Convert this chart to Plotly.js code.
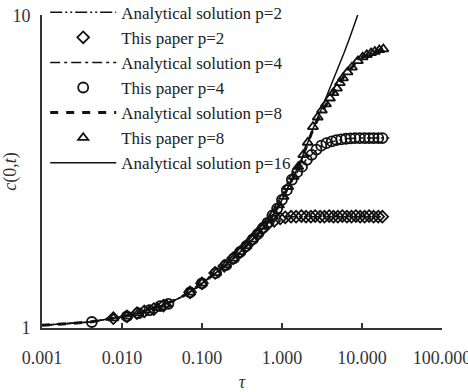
<!DOCTYPE html>
<html>
<head>
<meta charset="utf-8">
<script src="https://cdn.plot.ly/plotly-3.0.1.min.js"></script>
<style>html,body{margin:0;padding:0;background:#fff;}#chart{width:468px;height:392px;}</style>
</head>
<body>
<div id="chart"></div>
<script>
// ---- analytical solutions (lines) ----
const tauLine = [0.001, 0.002, 0.004, 0.007, 0.01, 0.015, 0.02, 0.03, 0.05, 0.07, 0.1, 0.15, 0.2, 0.3, 0.4, 0.5, 0.6, 0.7, 0.8, 0.9, 1.0, 1.2, 1.4, 1.7, 2, 2.5, 3, 4, 5, 6, 7, 8, 9, 10, 12, 15, 18, 22];
const lineP2  = [1.02, 1.03, 1.045, 1.07, 1.085, 1.11, 1.135, 1.175, 1.24, 1.30, 1.39, 1.50, 1.59, 1.75, 1.88, 2.00, 2.11, 2.19, 2.23, 2.25, 2.26, 2.27, 2.27, 2.27, 2.27, 2.27, 2.27, 2.27, 2.27, 2.27, 2.27, 2.27, 2.27, 2.27, 2.27, 2.27, 2.27, null];
const lineP4  = [1.02, 1.03, 1.045, 1.07, 1.085, 1.11, 1.135, 1.175, 1.24, 1.30, 1.39, 1.50, 1.59, 1.75, 1.88, 2.00, 2.11, 2.22, 2.33, 2.45, 2.57, 2.83, 3.02, 3.27, 3.45, 3.65, 3.80, 3.93, 3.99, 4.02, 4.04, 4.05, 4.05, 4.05, 4.05, 4.05, 4.05, 4.05];
const lineP8  = [1.02, 1.03, 1.045, 1.07, 1.085, 1.11, 1.135, 1.175, 1.24, 1.30, 1.39, 1.50, 1.59, 1.75, 1.88, 2.00, 2.11, 2.22, 2.33, 2.45, 2.57, 2.83, 3.05, 3.40, 3.80, 4.38, 4.82, 5.45, 5.95, 6.40, 6.70, 6.95, 7.15, 7.30, 7.50, 7.68, 7.80, 7.85];
const lineP16 = [1.02, 1.03, 1.045, 1.07, 1.085, 1.11, 1.135, 1.175, 1.24, 1.30, 1.39, 1.50, 1.59, 1.75, 1.88, 2.00, 2.11, 2.22, 2.33, 2.45, 2.57, 2.83, 3.05, 3.40, 3.80, 4.40, 4.90, 5.85, 6.70, 7.60, 8.45, 9.30, 10.2, 11.0, 12.5, null, null, null];

// ---- this paper (markers) ----
const tauP2 = [0.0078, 0.0115, 0.0154, 0.019, 0.025, 0.033, 0.071, 0.1, 0.146, 0.19, 0.245, 0.3, 0.36, 0.43, 0.5, 0.58, 0.66, 0.8, 0.95, 1.1, 1.3, 1.5, 1.75, 2.0, 2.3, 2.6, 3.0, 3.4, 3.9, 4.4, 5.0, 5.7, 6.5, 7.4, 8.4, 9.5, 10.8, 12.3, 14, 16, 18];
const cP2   = [1.075, 1.09, 1.115, 1.13, 1.15, 1.18, 1.30, 1.39, 1.50, 1.58, 1.67, 1.75, 1.83, 1.92, 2.00, 2.09, 2.15, 2.20, 2.24, 2.26, 2.27, 2.27, 2.28, 2.27, 2.27, 2.28, 2.27, 2.27, 2.28, 2.27, 2.27, 2.28, 2.27, 2.27, 2.28, 2.27, 2.27, 2.28, 2.27, 2.27, 2.27];

const tauP4 = [0.0042, 0.0115, 0.016, 0.022, 0.03, 0.038, 0.071, 0.1, 0.15, 0.2, 0.25, 0.3, 0.36, 0.43, 0.5, 0.58, 0.66, 0.76, 0.87, 1.0, 1.15, 1.33, 1.55, 1.78, 2.05, 2.35, 2.7, 3.1, 3.6, 4.2, 4.8, 5.5, 6.3, 7.2, 8.2, 9.4, 10.8, 12.3, 14, 16, 18];
const cP4   = [1.045, 1.09, 1.115, 1.14, 1.175, 1.195, 1.30, 1.39, 1.50, 1.59, 1.67, 1.75, 1.83, 1.92, 2.00, 2.09, 2.17, 2.29, 2.41, 2.57, 2.76, 2.98, 3.15, 3.28, 3.45, 3.58, 3.72, 3.83, 3.90, 3.95, 3.99, 4.01, 4.03, 4.04, 4.05, 4.05, 4.05, 4.05, 4.05, 4.05, 4.05];

const tauP8 = [0.0078, 0.0115, 0.016, 0.022, 0.028, 0.036, 0.071, 0.1, 0.15, 0.2, 0.25, 0.3, 0.36, 0.43, 0.5, 0.6, 0.7, 0.8, 0.92, 1.05, 1.2, 1.4, 1.6, 1.85, 2.1, 2.44, 2.8, 3.16, 3.55, 3.98, 4.4, 4.87, 5.3, 5.79, 6.6, 7.5, 8.9, 10.2, 11.5, 13, 14.5, 16.5, 18.5];
const cP8   = [1.075, 1.09, 1.115, 1.14, 1.16, 1.19, 1.30, 1.39, 1.50, 1.59, 1.67, 1.75, 1.83, 1.92, 2.00, 2.11, 2.22, 2.33, 2.47, 2.63, 2.83, 3.05, 3.28, 3.58, 3.92, 4.40, 4.72, 4.97, 5.20, 5.43, 5.65, 5.84, 6.08, 6.30, 6.58, 6.82, 7.15, 7.35, 7.48, 7.58, 7.66, 7.75, 7.80];

const seriesNames = ["Analytical solution p=2", "This paper p=2", "Analytical solution p=4", "This paper p=4", "Analytical solution p=8", "This paper p=8", "Analytical solution p=16"];
const xTickVals = [0.001, 0.01, 0.1, 1, 10, 100];
const xTickText = ["0.001", "0.010", "0.100", "1.000", "10.000", "100.000"];
const yTickVals = [1, 10];
const yTickText = ["1", "10"];

const serif = "'Liberation Serif', 'Times New Roman', serif";
const mk = (sym, sz) => ({symbol: sym, size: sz, color: "#111", line: {color: "#111", width: 1.8}});

const traces = [
  {x: tauLine, y: lineP2, name: seriesNames[0], mode: "lines", line: {color: "#111", width: 1.5, dash: "12px,3px,2px,3px,2px,3px"}},
  {x: tauP2, y: cP2, name: seriesNames[1], mode: "markers", marker: mk("diamond-open", 9)},
  {x: tauLine, y: lineP4, name: seriesNames[2], mode: "lines", line: {color: "#111", width: 1.5, dash: "10px,4px,3px,4px"}},
  {x: tauP4, y: cP4, name: seriesNames[3], mode: "markers", marker: mk("circle-open", 10)},
  {x: tauLine, y: lineP8, name: seriesNames[4], mode: "lines", line: {color: "#111", width: 3, dash: "8px,8px"}},
  {x: tauP8, y: cP8, name: seriesNames[5], mode: "markers", marker: mk("triangle-up-open", 9)},
  {x: tauLine, y: lineP16, name: seriesNames[6], mode: "lines", line: {color: "#111", width: 1.5}}
];

const layout = {
  width: 468, height: 392,
  margin: {l: 42, r: 26, t: 15, b: 64, autoexpand: false},
  paper_bgcolor: "#fff", plot_bgcolor: "#fff",
  font: {family: serif, size: 17, color: "#222"},
  showlegend: true,
  legend: {x: 0.008, y: 1.065, xanchor: "left", yanchor: "top", bgcolor: "rgba(0,0,0,0)",
           font: {family: serif, size: 17, color: "#222"}, itemwidth: 66, tracegroupgap: 0},
  xaxis: {type: "log", range: [-3, 2.001], tickvals: xTickVals, ticktext: xTickText,
          ticks: "inside", ticklen: 5, tickwidth: 1.5, tickcolor: "#333",
          showline: true, linecolor: "#333", linewidth: 2, showgrid: false, zeroline: false,
          tickfont: {family: serif, size: 18, color: "#333"}, ticklabelstandoff: 12, ticklabeloverflow: "allow",
          title: {text: "<i>τ</i>", font: {family: serif, size: 18, color: "#333"}, standoff: 10}},
  yaxis: {type: "log", range: [0, 1.001], tickvals: yTickVals, ticktext: yTickText,
          ticks: "inside", ticklen: 5, tickwidth: 1.5, tickcolor: "#333",
          showline: true, linecolor: "#333", linewidth: 2, showgrid: false, zeroline: false,
          tickfont: {family: serif, size: 18, color: "#333"}, ticklabelstandoff: 6,
          title: {text: "<i>c</i>(0,<i>t</i>)", font: {family: serif, size: 18, color: "#333"}, standoff: 0}}
};

Plotly.newPlot("chart", traces, layout, {displayModeBar: false, staticPlot: true});
</script>
</body>
</html>
